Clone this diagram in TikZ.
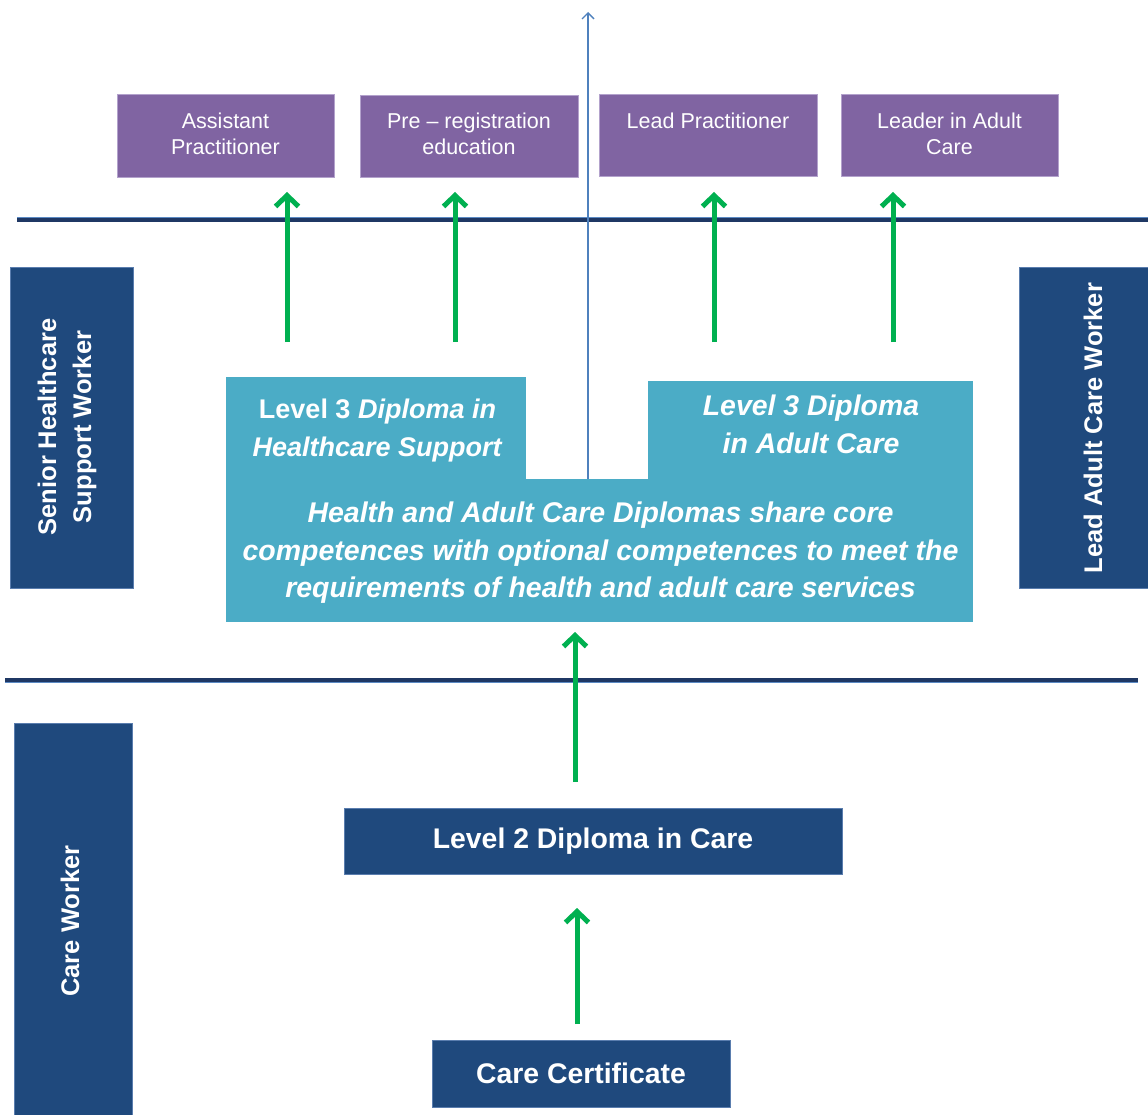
\documentclass[tikz,border=0pt]{standalone}
\usepackage{fontspec}
\setmainfont{Liberation Sans}
\usetikzlibrary{arrows.meta}
\definecolor{navy}{HTML}{1F497D}
\definecolor{navyedge}{HTML}{5A7DAE}
\definecolor{purp}{HTML}{8064A2}
\definecolor{purpedge}{HTML}{B3A2CC}
\definecolor{cyanb}{HTML}{4BACC6}
\definecolor{grn}{HTML}{00B050}
\definecolor{linedark}{HTML}{1F3864}
\definecolor{lineedge}{HTML}{5B8AC4}
\definecolor{bluearr}{HTML}{4F81BD}
\begin{document}
\begin{tikzpicture}[x=1pt,y=-1pt,
  boxbase/.style={rectangle, inner sep=0pt, outer sep=0pt, anchor=north west},
  pbox/.style={boxbase, fill=purp, draw=purpedge, line width=0.8pt},
  nbox/.style={boxbase, fill=navy, draw=navyedge, line width=0.6pt},
  cbox/.style={boxbase, fill=cyanb},
  ptxt/.style={text=white, align=center, inner sep=0pt, anchor=north, font=\fontsize{21.5}{26}\selectfont},
  ntxt/.style={text=white, align=center, inner sep=0pt, font=\fontsize{28.4}{34}\selectfont\bfseries},
  stxt/.style={text=white, align=center, inner sep=0pt, rotate=90, font=\fontsize{25.5}{35}\selectfont\bfseries},
  ctxt/.style={text=white, align=center, inner sep=0pt, anchor=north},
  hline/.style={draw=lineedge, double=linedark, double distance=3.6pt, line width=0.7pt},
  garrow/.style={draw=grn, line width=5pt, -{Straight Barb[length=11pt,width=23pt]}},
  barrow/.style={draw=bluearr, line width=1.4pt, -{Straight Barb[length=6pt,width=12pt]}}
]
\useasboundingbox (0,0) rectangle (1148,1115);
\fill[white] (0,0) rectangle (1148,1115);

% purple boxes
\node[pbox, minimum width=217pt, minimum height=83pt] (ap) at (117,94) {};
\node[pbox, minimum width=218pt, minimum height=82pt] (pr) at (360,95) {};
\node[pbox, minimum width=218pt, minimum height=82pt] (lp) at (599,94) {};
\node[pbox, minimum width=217pt, minimum height=82pt] (la) at (841,94) {};
\node[ptxt] (apt) at (225.5,113) {Assistant\\Practitioner};
\node[ptxt] (prt) at (469,113) {Pre – registration\\education};
\node[ptxt] (lpt) at (708,113) {Lead Practitioner};
\node[ptxt] (lat) at (949.5,113) {Leader in Adult\\Care};

% horizontal lines
\coordinate (h1a) at (17,220);
\coordinate (h1b) at (1148,220);
\coordinate (h2a) at (5,680);
\coordinate (h2b) at (1138,680);
\draw[hline] (h1a) -- (h1b);
\draw[hline] (h2a) -- (h2b);

% side boxes
\node[nbox, minimum width=123pt, minimum height=321pt] (shs) at (10,267) {};
\node[nbox, minimum width=135pt, minimum height=321pt] (lac) at (1019,267) {};
\node[nbox, minimum width=118pt, minimum height=400pt] (cw) at (14,723) {};
\node[stxt] (shst) at (67,427) {Senior Healthcare\\Support Worker};
\node[stxt] (lact) at (1093,428) {Lead Adult Care Worker};
\node[stxt] (cwt) at (70,921) {Care Worker};

% cyan shape
\node[cbox, minimum width=300pt, minimum height=110pt] (cl) at (226,377) {};
\node[cbox, minimum width=325pt, minimum height=106pt] (cr) at (648,381) {};
\node[cbox, minimum width=747pt, minimum height=143pt] (cb) at (226,479) {};
\node[ctxt, font=\fontsize{27}{38}\selectfont\bfseries] (clt) at (377.5,399)
  {Level 3 \textit{Diploma in}\\\textit{Healthcare Support}};
\node[ctxt, font=\fontsize{28.4}{37.5}\selectfont\bfseries\itshape] (crt) at (811,395)
  {Level 3 Diploma\\in Adult Care};
\node[ctxt, font=\fontsize{28.5}{37.5}\selectfont\bfseries\itshape] (cbt) at (600.5,502)
  {Health and Adult Care Diplomas share core\\competences with optional competences to meet the\\requirements of health and adult care services};

% lower boxes
\node[nbox, minimum width=498pt, minimum height=66pt] (l2) at (344,808) {};
\node[ntxt] (l2t) at (l2.center) {Level 2 Diploma in Care};
\node[nbox, minimum width=298pt, minimum height=67pt] (cc) at (432,1040) {};
\node[ntxt] (cct) at (cc.center) {Care Certificate};

% blue arrow
\coordinate (b0) at (588,479);
\coordinate (b1) at (588,12);
\draw[barrow] (b0) -- (b1);

% green arrows
\coordinate (g1s) at (287,342); \coordinate (g1e) at (287,192);
\coordinate (g2s) at (455,342); \coordinate (g2e) at (455,192);
\coordinate (g3s) at (714,342); \coordinate (g3e) at (714,192);
\coordinate (g4s) at (893,342); \coordinate (g4e) at (893,192);
\coordinate (g5s) at (575,782); \coordinate (g5e) at (575,632);
\coordinate (g6s) at (577,1024); \coordinate (g6e) at (577,908);
\draw[garrow] (g1s) -- (g1e);
\draw[garrow] (g2s) -- (g2e);
\draw[garrow] (g3s) -- (g3e);
\draw[garrow] (g4s) -- (g4e);
\draw[garrow] (g5s) -- (g5e);
\draw[garrow] (g6s) -- (g6e);
\end{tikzpicture}
\end{document}
